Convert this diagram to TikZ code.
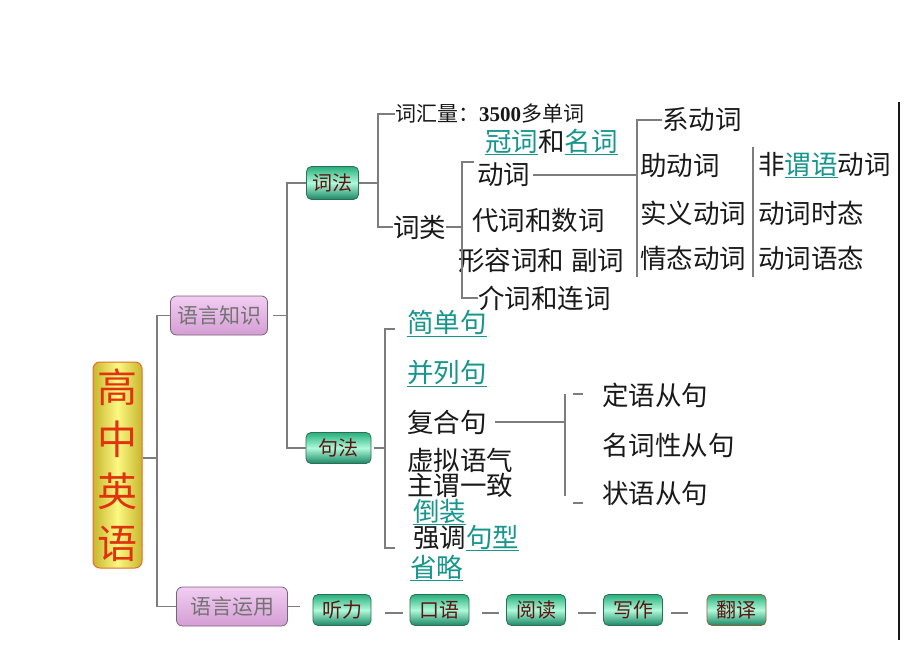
\documentclass[tikz,border=0pt]{standalone}
\usepackage{fontspec}
\setmainfont{Noto Sans CJK SC}
\newfontfamily\numfont{Liberation Serif}
\usetikzlibrary{calc}
\definecolor{tealu}{RGB}{22,150,140}
\definecolor{ink}{RGB}{25,25,25}
\definecolor{linec}{RGB}{125,125,125}
\definecolor{gtop}{RGB}{40,175,125}
\definecolor{gmid}{RGB}{175,250,218}
\definecolor{gbot}{RGB}{25,135,100}
\definecolor{gborder}{RGB}{45,110,85}
\definecolor{gtext}{RGB}{95,20,20}
\definecolor{ptop}{RGB}{242,205,242}
\definecolor{pbot}{RGB}{212,158,212}
\definecolor{pborder}{RGB}{120,100,120}
\definecolor{ptext}{RGB}{115,115,115}
\definecolor{yside}{RGB}{200,182,45}
\definecolor{ymid}{RGB}{252,248,130}
\definecolor{yborder}{RGB}{228,110,40}
\definecolor{ytext}{RGB}{225,50,15}
\newcommand\tu[1]{\textcolor{tealu}{\underline{#1}}}
\begin{document}
\begin{tikzpicture}[x=1pt,y=-1pt,
  conn/.style={draw=linec,line width=1.1pt},
  rline/.style={draw=ink,line width=1.3pt},
  gbox/.style={draw=gborder,line width=0.8pt,rounded corners=5pt,top color=gtop,bottom color=gbot,middle color=gmid,
    text=gtext,font=\fontsize{20}{20}\selectfont,inner sep=0pt,minimum height=31pt,minimum width=59pt},
  pbox/.style={draw=pborder,line width=0.8pt,rounded corners=6pt,top color=ptop,bottom color=pbot,
    text=ptext,font=\fontsize{21}{21}\selectfont,inner sep=0pt,minimum height=39pt},
  mbox/.style={draw=yborder,line width=1pt,rounded corners=7pt,left color=yside,right color=yside,middle color=ymid,
    text=ytext,font=\fontsize{40}{52}\selectfont,inner sep=0pt,align=center,minimum width=49pt,minimum height=206pt},
  txt/.style={anchor=west,inner sep=0pt,text=ink,font=\fontsize{26.5}{26.5}\selectfont},
  stxt/.style={anchor=west,inner sep=0pt,text=ink,font=\fontsize{21}{21}\selectfont}
]
\useasboundingbox[fill=white] (0,0) rectangle (920,651);

% main box and first level
\node[mbox] (main) at (117.5,465) {高\\中\\英\\语};
\node[pbox,minimum width=97pt] (zs) at (219,315.5) {语言知识};
\node[pbox,minimum width=111pt] (yy) at (232,606.5) {语言运用};
\coordinate (b1) at (157,458);
\draw[conn] (b1 -| main.east) -- (b1);
\draw[conn] (zs.west) -| (b1) |- (yy.west);

% second level
\node[gbox,minimum width=52pt,minimum height=33pt] (cf) at (332.5,183) {词法};
\node[gbox,minimum width=65pt] (jf) at (338.5,448) {句法};
\coordinate (b2) at (287,315.5);
\draw[conn,shorten <=5pt] (zs.east) -- (b2);
\draw[conn] (cf.west) -| (b2) |- (jf.west);

% 词法 branch
\node[stxt] (vocab) at (395,114) {词汇量：{\numfont\bfseries\fontsize{21}{21}\selectfont 3500}多单词};
\node[txt] (cl) at (393,227) {词类};
\coordinate (b3) at (378,183);
\draw[conn] (cf.east) -- (b3);
\draw[conn] (vocab.west) -| (b3) |- (cl.west);

\node[txt] (guan) at (485,142) {\tu{冠词}和\tu{名词}};
\node[txt] (dc) at (477,175) {动词};
\node[txt] (dai) at (472,220) {代词和数词};
\node[txt] (xr) at (458,260) {形容词和\hspace{7pt}副词};
\node[txt] (jc) at (478,298) {介词和连词};
\coordinate (b4) at (462,227);
\coordinate (t4) at (474,162);
\draw[conn] (cl.east) -- (b4);
\draw[conn] (t4) -| (b4) |- (jc.west);

\node[txt] (xd) at (662,120) {系动词};
\node[txt] (zd) at (640,165) {助动词};
\node[txt] (sy) at (640,213) {实义动词};
\node[txt] (qt) at (640,258) {情态动词};
\coordinate (b5end) at (637,277);
\draw[conn,shorten <=3pt] (dc.east) -- (dc.east -| b5end);
\draw[conn] (xd.west) -| (b5end);

\coordinate (s1) at (753,147);
\coordinate (s2) at (753,277);
\draw[conn] (s1) -- (s2);
\node[txt] (fw) at (758,165) {非\tu{谓语}动词};
\node[txt] (sj) at (758,213) {动词时态};
\node[txt] (ys) at (758,258) {动词语态};

\coordinate (r1) at (899,102);
\coordinate (r2) at (899,640);
\draw[rline] (r1) -- (r2);

% 句法 branch
\node[txt] (jd) at (407,323) {\tu{简单句}};
\node[txt] (bl) at (407,373) {\tu{并列句}};
\node[txt] (fh) at (407,422) {复合句};
\node[txt] (xn) at (407,460) {虚拟语气};
\node[txt] (zw) at (407,485) {主谓一致};
\node[txt] (dz) at (413,512) {\tu{倒装}};
\node[txt] (qd) at (413,538) {强调\tu{句型}};
\node[txt] (sl) at (410,568) {\tu{省略}};
\coordinate (b6) at (385,448);
\coordinate (b6t) at (395,329);
\coordinate (b6b) at (395,548);
\draw[conn,shorten <=3pt] (jf.east) -- (b6);
\draw[conn] (b6t) -| (b6) |- (b6b);

\node[txt] (dy) at (602,395) {定语从句};
\node[txt] (mc) at (602,445) {名词性从句};
\node[txt] (zy) at (602,493) {状语从句};
\coordinate (b7t) at (565,394);
\coordinate (b7b) at (565,496);
\draw[conn,shorten <=8pt] (fh.east) -- (fh.east -| b7t);
\draw[conn] (b7t) -- (b7b);
\coordinate (d1a) at (573,394);
\coordinate (d1b) at (583,394);
\coordinate (d2a) at (573,503);
\coordinate (d2b) at (583,503);
\draw[conn] (d1a) -- (d1b);
\draw[conn] (d2a) -- (d2b);

% 语言运用 row
\node[gbox,minimum width=58pt] (tl) at (342,610) {听力};
\node[gbox] (ky) at (439.5,610) {口语};
\node[gbox] (yd) at (536,610) {阅读};
\node[gbox] (xz) at (633,610) {写作};
\node[gbox,draw={rgb,255:red,150;green,95;blue,60}] (fy) at (736.5,610) {翻译};
\draw[conn,shorten >=13pt] (yy.east) -- (tl.west |- yy.east);
\draw[conn,shorten <=14pt,shorten >=7pt] ($(tl.east)+(0,3)$) -- ($(ky.west)+(0,3)$);
\draw[conn,shorten <=13pt,shorten >=7pt] ($(ky.east)+(0,3)$) -- ($(yd.west)+(0,3)$);
\draw[conn,shorten <=12pt,shorten >=7pt] ($(yd.east)+(0,3)$) -- ($(xz.west)+(0,3)$);
\draw[conn,shorten <=8pt,shorten >=19pt] ($(xz.east)+(0,3)$) -- ($(fy.west)+(0,3)$);
\end{tikzpicture}
\end{document}
